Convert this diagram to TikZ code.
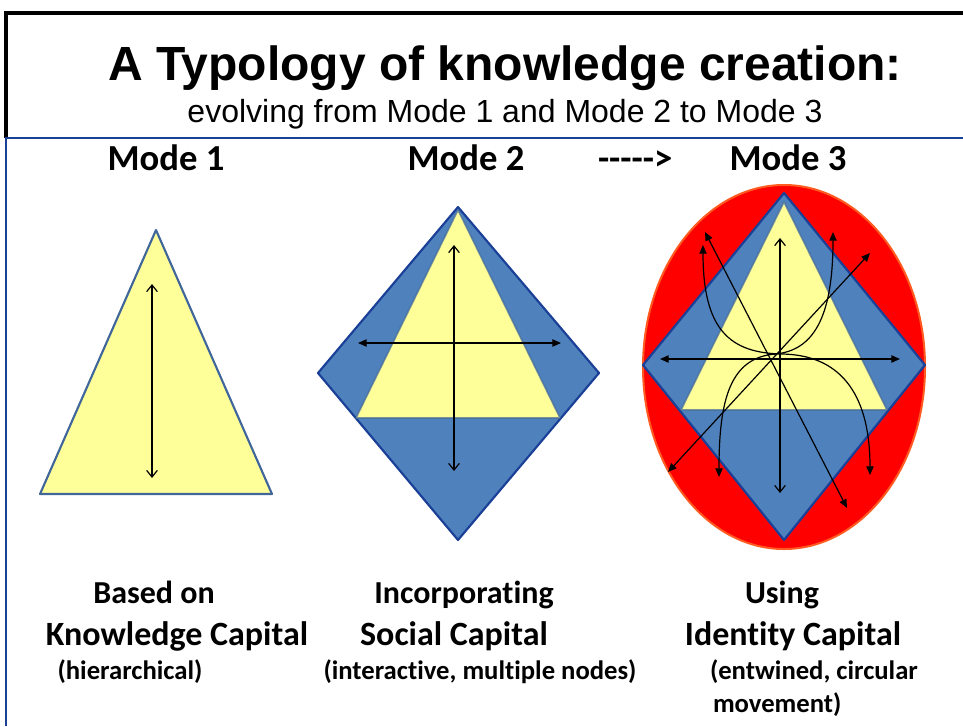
\documentclass[tikz,border=0pt]{standalone}
\usepackage{fontspec}
\setmainfont{Liberation Sans}
\newfontfamily\calibri{Carlito}[Ligatures=NoCommon]
\usepackage{xcolor}
\usetikzlibrary{arrows.meta,positioning}
\definecolor{paleyellow}{HTML}{FFFF99}
\definecolor{midblue}{HTML}{4F81BD}
\definecolor{edgeblue}{HTML}{41679A}
\definecolor{darkblue}{HTML}{1A3F96}
\definecolor{rimred}{HTML}{FF5A1F}

\begin{document}
\begin{tikzpicture}[
            x=0.75pt, y=-0.75pt,
            every node/.style={inner sep=0pt, outer sep=0pt},
            head/.style={font=\calibri\bfseries\fontsize{27.5}{31}\selectfont, anchor=base},
            leadline/.style={font=\calibri\bfseries\fontsize{24}{28}\selectfont, anchor=base},
            capline/.style={font=\calibri\bfseries\fontsize{25.5}{29}\selectfont, anchor=base},
            noteline/.style={font=\calibri\bfseries\fontsize{20}{24}\selectfont, anchor=base},
            pyramid/.style={fill=paleyellow, draw=edgeblue, line width=1.6pt, line join=round},
            inpyramid/.style={fill=paleyellow, draw=edgeblue, draw opacity=0.7, line width=1.2pt, line join=round},
            rhomb/.style={fill=midblue, draw=darkblue, line width=1.6pt, line join=round},
            updown/.style={{Straight Barb[length=5pt,width=8pt]}-{Straight Barb[length=5pt,width=8pt]}, line width=0.9pt},
            spread/.style={{Triangle[length=6.5pt,width=5.5pt]}-{Triangle[length=6.5pt,width=5.5pt]}, line width=0.9pt}
          ]
          \useasboundingbox (0,0) rectangle (963,726);

          % Frame
          \draw[line width=2.4pt] (963,13) -- (6,13) -- (6,138);
          \draw[darkblue, line width=1.5pt] (963,138) -- (6,138) -- (6,726);

          % Titles
          \node[anchor=base, font=\bfseries\fontsize{36}{40}\selectfont] (title) at (505,80) {A Typology of knowledge creation:};
          \node[anchor=base, font=\fontsize{24}{28}\selectfont] (subtitle) at (505,122) {evolving from Mode 1 and Mode 2 to Mode 3};

          % Mode headings
          \node[head] (modeone) at (166,170) {Mode 1};
          \node[head] (modetwo) at (466,170) {Mode 2};
          \node[head] (modethree) at (788,170) {Mode 3};
          \node[head, anchor=base west] (dashes) at (598,170) {----->};

          % Mode 1: triangle
          \draw[pyramid] (156,230) -- (272,494) -- (40,494) -- cycle;
          \coordinate (m1top) at (152,284);
          \coordinate (m1bot) at (152,478);
          \draw[updown] (m1top) -- (m1bot);

          % Mode 2: diamond with triangle
          \draw[rhomb] (458,207) -- (599,373) -- (458,540) -- (318,373) -- cycle;
          \draw[inpyramid] (458,210) -- (560,418) -- (356,418) -- cycle;
          \coordinate (m2top) at (454,245);
          \coordinate (m2bot) at (454,471);
          \coordinate (m2left) at (358,343);
          \coordinate (m2right) at (561,343);
          \draw[updown] (m2top) -- (m2bot);
          \draw[spread] (m2left) -- (m2right);

          % Mode 3: oval, diamond and triangle
          \draw[fill=red, draw=rimred, line width=1.5pt] (784,367) ellipse [x radius=141, y radius=182];
          \draw[rhomb] (784,193) -- (925,365) -- (784,540) -- (643,365) -- cycle;
          \draw[inpyramid] (784,202) -- (887,410) -- (681,410) -- cycle;
          \coordinate (m3top) at (780,238);
          \coordinate (m3bot) at (780,493);
          \coordinate (m3left) at (660,359);
          \coordinate (m3right) at (900,359);
          \coordinate (m3sw) at (668,472);
          \coordinate (m3ne) at (870,253);
          \coordinate (m3nw) at (705,232);
          \coordinate (m3se) at (847,508);
          \coordinate (m3curvea) at (703,245);
          \coordinate (m3curveb) at (870,475);
          \coordinate (m3curvec) at (833,232);
          \coordinate (m3curved) at (719,477);
          \draw[updown] (m3top) -- (m3bot);
          \draw[spread] (m3left) -- (m3right);
          \draw[spread] (m3sw) -- (m3ne);
          \draw[spread] (m3nw) -- (m3se);
          \draw[spread] (m3curvea) .. controls (703,330) and (730,353) .. (782,354) .. controls (845,355) and (870,400) .. (m3curveb);
          \draw[spread] (m3curvec) .. controls (833,320) and (812,350) .. (776,354) .. controls (730,357) and (719,400) .. (m3curved);

          % Captions
          \node[leadline] (based) at (154,603) {Based on};
          \node[capline] (knowcap) at (177,645) {Knowledge Capital};
          \node[noteline] (hier) at (130,679) {(hierarchical)};
          \node[leadline] (incorp) at (464,603) {Incorporating};
          \node[capline] (soccap) at (454,645) {Social Capital};
          \node[noteline] (inter) at (480,679) {(interactive, multiple nodes)};
          \node[leadline] (using) at (782,603) {Using};
          \node[capline] (idcap) at (793,645) {Identity Capital};
          \node[noteline, anchor=base west] (entw) at (710,679) {(entwined, circular};
          \node[noteline, anchor=base west] (movem) at (713,712) {movement)};

        \end{tikzpicture}
\end{document}
